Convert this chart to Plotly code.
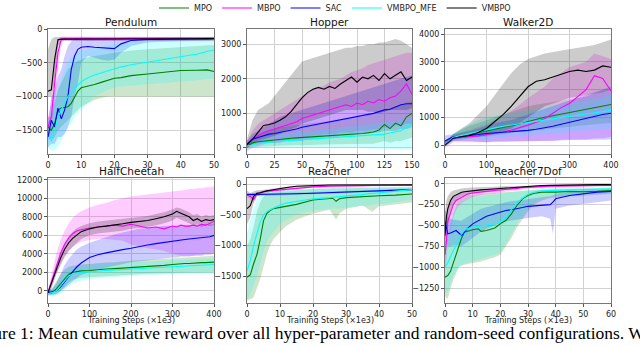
import plotly.graph_objects as go
from plotly.subplots import make_subplots

SERIES = ["MPO", "MBPO", "SAC", "VMBPO_MFE", "VMBPO"]
TITLES = ["Pendulum", "Hopper", "Walker2D", "HalfCheetah", "Reacher", "Reacher7Dof"]

# ---------------- Pendulum ----------------
PEN_X = [0, 1, 2, 3, 4, 5, 6, 7, 8, 9, 10, 12, 14, 16, 18, 20, 22, 25, 30, 35, 40, 45, 48, 50]
PEN_VMBPO = [-920, -900, -450, -160, -150, -150, -150, -152, -150, -148, -150, -152, -150, -150, -155, -150, -150, -148, -150, -148, -145, -145, -142, -140]
PEN_VMBPO_HI = [-300, -150, -120, -120, -125, -125, -125, -128, -125, -125, -125, -128, -125, -125, -130, -125, -125, -125, -125, -125, -120, -120, -118, -115]
PEN_VMBPO_LO = [-1000, -1000, -800, -250, -180, -175, -175, -178, -175, -172, -175, -178, -175, -175, -180, -175, -175, -172, -175, -172, -170, -170, -167, -165]
PEN_MBPO = [-1450, -1300, -800, -350, -150, -140, -145, -140, -142, -140, -140, -145, -140, -142, -140, -140, -143, -140, -142, -145, -148, -150, -150, -150]
PEN_MBPO_HI = [-1300, -1100, -500, -150, -110, -110, -115, -110, -112, -110, -110, -115, -110, -112, -110, -110, -113, -110, -112, -115, -118, -120, -120, -120]
PEN_MBPO_LO = [-1600, -1500, -1100, -600, -200, -170, -175, -170, -172, -170, -170, -175, -170, -172, -170, -170, -173, -170, -172, -175, -178, -180, -180, -180]
PEN_SAC = [-1600, -1350, -1450, -1170, -1330, -1200, -1000, -600, -400, -300, -270, -260, -270, -280, -285, -290, -220, -170, -155, -150, -150, -148, -145, -145]
PEN_SAC_HI = [-1400, -1000, -900, -700, -600, -400, -250, -180, -150, -140, -130, -130, -130, -130, -140, -150, -130, -125, -120, -120, -120, -120, -120, -120]
PEN_SAC_LO = [-1750, -1700, -1700, -1600, -1600, -1550, -1450, -1300, -1000, -800, -500, -400, -430, -450, -470, -450, -350, -250, -200, -190, -180, -180, -170, -170]
PEN_MFE = [-1600, -1650, -1500, -1300, -1200, -1100, -1000, -940, -880, -830, -780, -720, -680, -650, -620, -580, -560, -530, -490, -450, -410, -370, -330, -310]
PEN_MFE_HI = [-1450, -1400, -1100, -900, -750, -600, -500, -420, -380, -350, -320, -300, -280, -260, -240, -220, -200, -180, -160, -150, -140, -130, -130, -130]
PEN_MFE_LO = [-1750, -1800, -1800, -1750, -1650, -1550, -1450, -1400, -1300, -1250, -1200, -1100, -1000, -950, -900, -870, -850, -830, -820, -800, -780, -760, -740, -740]
PEN_MPO = [-1450, -1500, -1400, -1200, -1170, -1160, -1150, -1100, -1000, -920, -870, -850, -820, -790, -760, -730, -720, -690, -665, -640, -615, -610, -605, -630]
PEN_MPO_HI = [-1300, -1300, -1100, -900, -800, -700, -600, -550, -500, -470, -450, -420, -400, -380, -360, -350, -340, -320, -300, -280, -260, -250, -240, -240]
PEN_MPO_LO = [-1600, -1650, -1600, -1500, -1450, -1400, -1350, -1300, -1250, -1200, -1150, -1100, -1050, -1020, -1000, -1000, -1000, -1000, -1000, -1000, -1000, -1000, -1000, -1000]

# ---------------- Hopper ----------------
HOP_X = list(range(0, 151, 5))
HOP_VMBPO = [100, 250, 450, 650, 680, 720, 800, 900, 1050, 1250, 1450, 1600, 1700, 1750, 1700, 1780, 1720, 1850, 1950, 2050, 1900, 2050, 2000, 2100, 1950, 2150, 2000, 2100, 2200, 1950, 2050]
HOP_VMBPO_HI = [250, 800, 1100, 1200, 1300, 1500, 1700, 1900, 2100, 2300, 2500, 2550, 2600, 2650, 2700, 2750, 2800, 2850, 2900, 2900, 2950, 2950, 3000, 3000, 3050, 3050, 3100, 3150, 3100, 3000, 2900]
HOP_VMBPO_LO = [0, 100, 200, 250, 300, 350, 400, 500, 550, 600, 700, 750, 800, 850, 900, 950, 1000, 1050, 1100, 1100, 1100, 1100, 1050, 1050, 1000, 1050, 1100, 1100, 1100, 1100, 1150]
HOP_MBPO = [100, 250, 350, 450, 500, 550, 600, 650, 700, 750, 850, 900, 950, 1000, 1050, 1100, 1150, 1200, 1250, 1200, 1300, 1250, 1350, 1300, 1400, 1350, 1450, 1500, 1650, 1850, 1550]
HOP_MBPO_HI = [200, 500, 700, 800, 900, 1000, 1100, 1200, 1300, 1400, 1500, 1600, 1700, 1750, 1800, 1900, 1950, 2000, 2100, 2200, 2250, 2300, 2400, 2450, 2500, 2550, 2600, 2650, 2700, 2750, 2750]
HOP_MBPO_LO = [-100, 0, 50, 100, 150, 150, 200, 200, 250, 250, 300, 300, 350, 350, 400, 400, 400, 450, 450, 450, 500, 500, 500, 550, 550, 600, 600, 650, 650, 700, 700]
HOP_SAC = [100, 250, 300, 350, 400, 420, 450, 480, 520, 550, 600, 630, 660, 700, 720, 750, 780, 820, 860, 880, 920, 950, 980, 1000, 1050, 1100, 1120, 1180, 1250, 1280, 1280]
HOP_SAC_HI = [200, 400, 500, 600, 700, 800, 900, 950, 1000, 1050, 1100, 1150, 1200, 1250, 1300, 1350, 1400, 1450, 1500, 1550, 1600, 1650, 1700, 1750, 1800, 1850, 1900, 1950, 2000, 2050, 2100]
HOP_SAC_LO = [0, 100, 100, 150, 150, 150, 150, 200, 200, 200, 200, 250, 250, 250, 300, 300, 300, 350, 350, 350, 400, 400, 400, 450, 450, 500, 500, 500, 550, 550, 600]
HOP_MPO = [50, 150, 180, 200, 220, 240, 260, 270, 280, 290, 300, 310, 320, 330, 340, 350, 360, 370, 380, 390, 400, 420, 440, 460, 520, 680, 560, 720, 640, 900, 1000]
HOP_MPO_HI = [150, 300, 400, 450, 500, 550, 600, 620, 640, 660, 680, 700, 720, 740, 760, 780, 800, 820, 840, 860, 880, 900, 950, 1000, 1050, 1100, 1150, 1200, 1250, 1300, 1350]
HOP_MPO_LO = [0, 20, 30, 40, 50, 60, 60, 70, 70, 80, 80, 80, 90, 90, 100, 100, 100, 100, 110, 110, 110, 120, 120, 120, 150, 200, 150, 200, 200, 250, 300]
HOP_MFE = [50, 100, 130, 150, 170, 190, 200, 210, 220, 230, 240, 250, 260, 270, 280, 290, 300, 305, 310, 320, 330, 340, 350, 360, 380, 400, 430, 460, 500, 600, 700]
HOP_MFE_HI = [100, 200, 250, 300, 350, 380, 400, 420, 440, 460, 470, 480, 490, 500, 520, 540, 560, 580, 600, 620, 640, 660, 680, 700, 720, 740, 760, 780, 800, 850, 900]
HOP_MFE_LO = [-50, 0, 0, 10, 10, 20, 20, 20, 20, 20, 20, 20, 20, 10, 10, 10, 10, 0, 0, 0, 0, -10, -10, -10, -20, -20, -30, -30, -40, -40, -50]

# ---------------- Walker2D ----------------
WAL_X = list(range(0, 401, 20))
WAL_VMBPO = [0, 250, 300, 350, 450, 600, 850, 1100, 1400, 1750, 2100, 2300, 2350, 2450, 2550, 2650, 2700, 2650, 2700, 2850, 2800]
WAL_VMBPO_HI = [100, 400, 600, 800, 1100, 1400, 1800, 2200, 2600, 2900, 3100, 3200, 3300, 3350, 3400, 3450, 3500, 3550, 3600, 3700, 3800]
WAL_VMBPO_LO = [-50, 200, 250, 300, 300, 350, 400, 500, 600, 800, 1000, 1200, 1400, 1500, 1600, 1700, 1750, 1800, 1850, 1900, 2000]
WAL_MBPO = [0, 250, 280, 300, 330, 380, 420, 470, 540, 620, 720, 820, 950, 1150, 1350, 1500, 1750, 2000, 2500, 2400, 1950]
WAL_MBPO_HI = [150, 350, 450, 550, 650, 750, 900, 1050, 1250, 1450, 1700, 1900, 2100, 2400, 2600, 2800, 2900, 3000, 3300, 3200, 3100]
WAL_MBPO_LO = [-100, 100, 100, 100, 100, 100, 150, 150, 150, 150, 150, 150, 150, 150, 200, 200, 200, 200, 250, 250, 300]
WAL_SAC = [150, 300, 330, 350, 380, 420, 440, 460, 480, 500, 530, 570, 620, 680, 750, 820, 900, 980, 1050, 1100, 1150]
WAL_SAC_HI = [350, 400, 450, 500, 600, 700, 800, 850, 900, 1000, 1100, 1200, 1300, 1400, 1500, 1600, 1700, 1800, 1900, 2000, 2100]
WAL_SAC_LO = [0, 150, 150, 150, 120, 100, 100, 100, 120, 130, 150, 150, 150, 160, 170, 180, 190, 200, 200, 200, 200]
WAL_MPO = [0, 250, 320, 380, 440, 500, 560, 620, 690, 760, 850, 930, 1000, 1060, 1120, 1180, 1240, 1300, 1360, 1420, 1460]
WAL_MPO_HI = [150, 400, 550, 700, 800, 900, 1000, 1100, 1200, 1300, 1400, 1450, 1500, 1550, 1600, 1650, 1700, 1750, 1850, 1950, 2000]
WAL_MPO_LO = [-50, 150, 200, 250, 300, 300, 350, 400, 450, 500, 520, 550, 580, 600, 640, 680, 700, 720, 750, 780, 800]
WAL_MFE = [0, 280, 350, 420, 500, 560, 620, 680, 730, 770, 810, 860, 900, 950, 1000, 1040, 1080, 1120, 1160, 1220, 1250]
WAL_MFE_HI = [100, 400, 600, 750, 900, 1000, 1050, 1100, 1150, 1200, 1250, 1300, 1350, 1400, 1450, 1500, 1550, 1600, 1650, 1700, 1800]
WAL_MFE_LO = [-50, 150, 200, 200, 200, 200, 250, 280, 300, 330, 350, 380, 400, 420, 450, 480, 500, 520, 550, 580, 600]

# ---------------- HalfCheetah ----------------
HC_X = [0, 10, 20, 30, 40, 50, 60, 70, 80, 100, 120, 140, 160, 180, 200, 220, 240, 260, 280, 300, 310, 320, 330, 340, 350, 360, 370, 380, 390, 400]
HC_VMBPO = [-200, 1000, 2400, 3500, 4500, 5200, 5700, 6100, 6400, 6700, 6900, 7000, 7100, 7250, 7400, 7500, 7600, 7800, 8000, 8300, 8600, 8400, 8200, 8000, 7600, 7800, 7500, 7700, 7600, 7700]
HC_VMBPO_HI = [100, 1500, 3000, 4200, 5200, 5900, 6400, 6800, 7000, 7300, 7500, 7600, 7700, 7800, 7900, 8000, 8100, 8300, 8500, 8800, 9000, 8900, 8700, 8500, 8200, 8300, 8000, 8200, 8100, 8200]
HC_VMBPO_LO = [-500, 500, 1800, 2800, 3700, 4300, 4800, 5200, 5600, 6000, 6200, 6300, 6400, 6500, 6700, 6800, 6900, 7100, 7300, 7600, 7900, 7700, 7500, 7300, 7000, 7200, 6900, 7100, 7000, 7100]
HC_MBPO = [-200, 1200, 2800, 4000, 5000, 5700, 6200, 6500, 6600, 6800, 6900, 7000, 7100, 7000, 7200, 7000, 6800, 6900, 6700, 7000, 6900, 7100, 7000, 7000, 7100, 7000, 7200, 7100, 7300, 7500]
HC_MBPO_HI = [0, 2000, 4000, 5500, 6500, 7300, 7900, 8300, 8600, 9000, 9300, 9500, 9800, 10000, 10200, 10300, 10400, 10500, 10600, 10700, 10800, 10800, 10900, 11000, 11000, 11100, 11100, 11200, 11200, 11300]
HC_MBPO_LO = [-400, 500, 1800, 2800, 3600, 4300, 4800, 5100, 5300, 5500, 5600, 5600, 5500, 5400, 5000, 4800, 4600, 4500, 4300, 4000, 3900, 3800, 3800, 3800, 3800, 3900, 3900, 4000, 4000, 4000]
HC_SAC = [-200, -100, 0, 400, 1000, 1500, 2100, 2600, 3000, 3600, 3900, 4100, 4300, 4450, 4600, 4800, 4950, 5100, 5250, 5400, 5450, 5500, 5550, 5600, 5650, 5700, 5750, 5800, 5850, 6000]
HC_SAC_HI = [0, 200, 800, 1800, 2800, 3500, 4000, 4500, 4800, 5200, 5500, 5800, 6100, 6300, 6500, 6700, 6800, 6900, 7000, 7000, 7050, 7050, 7100, 7100, 7100, 7150, 7150, 7200, 7200, 7200]
HC_SAC_LO = [-400, -400, -300, 0, 300, 600, 1000, 1400, 1700, 2000, 2300, 2500, 2700, 2900, 3100, 3200, 3300, 3400, 3500, 3600, 3600, 3700, 3700, 3700, 3800, 3800, 3800, 3900, 3900, 4000]
HC_MPO = [-300, -200, 200, 700, 1300, 1800, 2000, 2100, 2150, 2200, 2300, 2350, 2400, 2450, 2550, 2600, 2650, 2700, 2750, 2850, 2900, 2900, 2950, 2950, 3000, 3000, 3050, 3050, 3100, 3100]
HC_MPO_HI = [0, 300, 1000, 1800, 2300, 2600, 2700, 2800, 2850, 2900, 3000, 3050, 3100, 3200, 3250, 3300, 3350, 3400, 3450, 3500, 3550, 3550, 3600, 3600, 3650, 3650, 3700, 3700, 3750, 3800]
HC_MPO_LO = [-500, -500, -400, -100, 400, 900, 1200, 1300, 1400, 1500, 1550, 1600, 1650, 1700, 1750, 1800, 1850, 1850, 1900, 1900, 1950, 1950, 1950, 1950, 2000, 2000, 2000, 2000, 2000, 2000]
HC_MFE = [-300, -200, 0, 500, 1100, 1600, 1850, 1950, 2000, 2050, 2150, 2200, 2250, 2300, 2400, 2450, 2500, 2550, 2600, 2650, 2700, 2700, 2750, 2750, 2750, 2800, 2800, 2800, 2850, 2850]
HC_MFE_HI = [0, 200, 800, 1500, 2100, 2400, 2500, 2600, 2700, 2800, 2900, 2950, 3000, 3050, 3100, 3150, 3200, 3250, 3300, 3350, 3350, 3400, 3400, 3400, 3450, 3450, 3450, 3500, 3500, 3500]
HC_MFE_LO = [-500, -500, -500, -300, 100, 500, 800, 1000, 1100, 1300, 1400, 1450, 1500, 1550, 1600, 1650, 1700, 1700, 1750, 1750, 1800, 1800, 1800, 1800, 1800, 1800, 1800, 1800, 1800, 1800]

# ---------------- Reacher ----------------
REA_X = [0, 1, 2, 3, 4, 5, 6, 7, 8, 10, 12, 15, 20, 25, 26, 27, 28, 30, 35, 38, 40, 45, 50]
REA_VMBPO = [-400, -350, -200, -150, -140, -120, -110, -100, -90, -70, -55, -35, -20, -15, -15, -15, -12, -10, -10, -10, -10, -10, -10]
REA_VMBPO_HI = [-100, -150, -120, -100, -100, -90, -85, -80, -70, -55, -40, -25, -10, -5, -5, -5, -5, -5, -5, -5, -5, -5, -5]
REA_VMBPO_LO = [-650, -550, -300, -200, -180, -160, -140, -130, -120, -90, -70, -50, -35, -25, -25, -25, -20, -18, -15, -15, -15, -15, -15]
REA_MBPO = [-180, -200, -250, -160, -140, -120, -115, -110, -105, -100, -90, -70, -45, -35, -33, -32, -30, -28, -25, -23, -22, -20, -20]
REA_MBPO_HI = [-150, -160, -180, -130, -115, -100, -95, -90, -85, -80, -70, -55, -30, -22, -20, -20, -18, -16, -14, -12, -12, -10, -10]
REA_MBPO_LO = [-210, -240, -320, -190, -165, -140, -135, -130, -125, -120, -110, -85, -60, -48, -46, -44, -42, -40, -36, -34, -32, -30, -30]
REA_SAC = [-170, -170, -170, -170, -170, -168, -168, -168, -167, -165, -163, -158, -150, -140, -138, -137, -135, -130, -120, -115, -110, -100, -90]
REA_SAC_HI = [-150, -150, -150, -150, -150, -148, -148, -148, -147, -145, -143, -138, -130, -120, -118, -117, -115, -110, -100, -95, -90, -80, -70]
REA_SAC_LO = [-190, -190, -190, -190, -190, -188, -188, -188, -187, -185, -183, -178, -170, -160, -158, -157, -155, -150, -140, -135, -130, -120, -110]
REA_MFE = [-1420, -1250, -1000, -800, -620, -500, -450, -420, -390, -340, -310, -280, -240, -220, -215, -210, -205, -190, -170, -150, -140, -110, -90]
REA_MFE_HI = [-800, -600, -400, -250, -180, -150, -130, -120, -110, -100, -90, -80, -70, -60, -60, -60, -60, -55, -55, -50, -50, -50, -50]
REA_MFE_LO = [-1900, -1800, -1650, -1500, -1300, -1100, -950, -850, -780, -650, -580, -500, -430, -400, -400, -400, -390, -380, -360, -340, -330, -300, -250]
REA_MPO = [-1520, -1480, -1300, -1150, -900, -600, -480, -430, -400, -380, -360, -330, -260, -240, -230, -280, -240, -220, -200, -195, -190, -180, -160]
REA_MPO_HI = [-1000, -900, -700, -450, -300, -200, -160, -140, -130, -120, -110, -100, -80, -70, -70, -70, -70, -60, -60, -60, -55, -55, -50]
REA_MPO_LO = [-1900, -1880, -1850, -1700, -1550, -1350, -1150, -1000, -900, -780, -680, -580, -480, -420, -500, -580, -480, -400, -350, -450, -360, -330, -300]

# ---------------- Reacher7Dof ----------------
R7_X = [0, 0.5, 1, 2, 3, 4, 5, 6, 7, 8, 10, 12, 13, 15, 18, 20, 22, 24, 26, 28, 30, 32, 35, 38, 39, 40, 45, 50, 55, 60]
R7_VMBPO = [-620, -400, -300, -200, -150, -130, -110, -100, -95, -90, -80, -75, -72, -68, -60, -55, -50, -45, -40, -35, -30, -25, -20, -18, -17, -16, -14, -12, -10, -10]
R7_VMBPO_HI = [-350, -200, -150, -100, -80, -70, -60, -55, -50, -50, -45, -40, -40, -38, -35, -30, -28, -25, -22, -20, -18, -15, -12, -10, -10, -10, -8, -6, -5, -5]
R7_VMBPO_LO = [-900, -650, -500, -330, -250, -200, -170, -150, -140, -130, -115, -110, -105, -100, -90, -80, -72, -65, -58, -50, -45, -38, -30, -26, -25, -24, -20, -18, -15, -15]
R7_MBPO = [-850, -700, -450, -350, -250, -200, -180, -160, -140, -125, -110, -100, -95, -90, -80, -75, -70, -60, -55, -45, -40, -35, -30, -28, -27, -26, -24, -22, -20, -20]
R7_MBPO_HI = [-600, -450, -250, -200, -150, -130, -120, -100, -90, -80, -70, -65, -60, -55, -50, -45, -40, -35, -30, -25, -22, -20, -15, -12, -12, -12, -10, -10, -8, -8]
R7_MBPO_LO = [-1000, -950, -700, -550, -400, -320, -270, -240, -210, -190, -160, -140, -135, -125, -115, -105, -100, -90, -80, -70, -60, -55, -45, -42, -40, -40, -38, -35, -32, -32]
R7_SAC = [-450, -550, -600, -590, -570, -560, -590, -620, -580, -540, -480, -440, -420, -390, -360, -340, -320, -310, -300, -285, -270, -265, -260, -250, -220, -180, -140, -120, -100, -90]
R7_SAC_HI = [-300, -350, -400, -420, -430, -430, -440, -440, -420, -400, -350, -320, -300, -280, -260, -240, -220, -210, -200, -190, -180, -170, -160, -150, -140, -120, -100, -80, -70, -60]
R7_SAC_LO = [-600, -700, -750, -750, -740, -730, -740, -750, -730, -700, -650, -600, -570, -540, -500, -470, -450, -440, -430, -420, -410, -400, -390, -420, -600, -300, -260, -240, -220, -200]
R7_MFE = [-1000, -980, -950, -870, -800, -750, -670, -600, -560, -540, -520, -510, -505, -500, -480, -460, -400, -310, -230, -170, -125, -100, -85, -80, -80, -78, -75, -70, -65, -60]
R7_MFE_HI = [-700, -650, -600, -450, -350, -300, -250, -220, -200, -180, -160, -150, -145, -140, -130, -120, -110, -100, -90, -80, -70, -60, -50, -50, -50, -50, -45, -40, -40, -40]
R7_MFE_LO = [-1300, -1300, -1300, -1200, -1100, -1050, -1000, -980, -960, -950, -930, -910, -900, -880, -850, -820, -720, -600, -480, -380, -300, -220, -180, -150, -150, -150, -130, -120, -110, -100]
R7_MPO = [-1120, -1110, -1100, -1050, -950, -850, -750, -650, -580, -570, -550, -540, -570, -560, -530, -480, -440, -360, -260, -180, -140, -115, -100, -100, -100, -100, -90, -95, -90, -80]
R7_MPO_HI = [-800, -750, -700, -500, -350, -250, -200, -170, -150, -140, -130, -120, -120, -115, -110, -105, -100, -95, -90, -85, -80, -75, -70, -65, -65, -65, -60, -55, -55, -50]
R7_MPO_LO = [-1350, -1370, -1380, -1250, -1150, -1080, -1000, -980, -970, -960, -950, -940, -930, -910, -880, -850, -750, -650, -520, -420, -330, -250, -200, -170, -165, -160, -150, -140, -130, -120]

# ---------------- axis ticks ----------------
X_TICKS = [[0, 10, 20, 30, 40, 50], [0, 25, 50, 75, 100, 125, 150], [0, 100, 200, 300, 400],
           [0, 100, 200, 300, 400], [0, 10, 20, 30, 40, 50], [0, 10, 20, 30, 40, 50, 60]]
Y_TICKS = [[0, -500, -1000, -1500], [0, 1000, 2000, 3000], [0, 1000, 2000, 3000, 4000],
           [0, 2000, 4000, 6000, 8000, 10000, 12000], [0, -500, -1000, -1500],
           [0, -250, -500, -750, -1000, -1250]]
X_RANGES = [[0, 50], [0, 150], [0, 400], [0, 400], [0, 50], [0, 60]]
Y_RANGES = [[-1850, 0], [-175, 3440], [-320, 4180], [-1320, 12200], [-1940, 100], [-1430, 70]]

LINE_COLORS = {"MPO": "#008000", "MBPO": "#ff00ff", "SAC": "#0000ff", "VMBPO_MFE": "#00ffff", "VMBPO": "#000000"}
FILL_COLORS = {"MPO": "rgba(0,128,0,0.2)", "MBPO": "rgba(255,0,255,0.2)", "SAC": "rgba(0,0,255,0.2)",
               "VMBPO_MFE": "rgba(0,255,255,0.2)", "VMBPO": "rgba(0,0,0,0.2)"}

ENVS = [
    (PEN_X, {"MPO": (PEN_MPO, PEN_MPO_LO, PEN_MPO_HI), "MBPO": (PEN_MBPO, PEN_MBPO_LO, PEN_MBPO_HI),
             "SAC": (PEN_SAC, PEN_SAC_LO, PEN_SAC_HI), "VMBPO_MFE": (PEN_MFE, PEN_MFE_LO, PEN_MFE_HI),
             "VMBPO": (PEN_VMBPO, PEN_VMBPO_LO, PEN_VMBPO_HI)}),
    (HOP_X, {"MPO": (HOP_MPO, HOP_MPO_LO, HOP_MPO_HI), "MBPO": (HOP_MBPO, HOP_MBPO_LO, HOP_MBPO_HI),
             "SAC": (HOP_SAC, HOP_SAC_LO, HOP_SAC_HI), "VMBPO_MFE": (HOP_MFE, HOP_MFE_LO, HOP_MFE_HI),
             "VMBPO": (HOP_VMBPO, HOP_VMBPO_LO, HOP_VMBPO_HI)}),
    (WAL_X, {"MPO": (WAL_MPO, WAL_MPO_LO, WAL_MPO_HI), "MBPO": (WAL_MBPO, WAL_MBPO_LO, WAL_MBPO_HI),
             "SAC": (WAL_SAC, WAL_SAC_LO, WAL_SAC_HI), "VMBPO_MFE": (WAL_MFE, WAL_MFE_LO, WAL_MFE_HI),
             "VMBPO": (WAL_VMBPO, WAL_VMBPO_LO, WAL_VMBPO_HI)}),
    (HC_X, {"MPO": (HC_MPO, HC_MPO_LO, HC_MPO_HI), "MBPO": (HC_MBPO, HC_MBPO_LO, HC_MBPO_HI),
            "SAC": (HC_SAC, HC_SAC_LO, HC_SAC_HI), "VMBPO_MFE": (HC_MFE, HC_MFE_LO, HC_MFE_HI),
            "VMBPO": (HC_VMBPO, HC_VMBPO_LO, HC_VMBPO_HI)}),
    (REA_X, {"MPO": (REA_MPO, REA_MPO_LO, REA_MPO_HI), "MBPO": (REA_MBPO, REA_MBPO_LO, REA_MBPO_HI),
             "SAC": (REA_SAC, REA_SAC_LO, REA_SAC_HI), "VMBPO_MFE": (REA_MFE, REA_MFE_LO, REA_MFE_HI),
             "VMBPO": (REA_VMBPO, REA_VMBPO_LO, REA_VMBPO_HI)}),
    (R7_X, {"MPO": (R7_MPO, R7_MPO_LO, R7_MPO_HI), "MBPO": (R7_MBPO, R7_MBPO_LO, R7_MBPO_HI),
            "SAC": (R7_SAC, R7_SAC_LO, R7_SAC_HI), "VMBPO_MFE": (R7_MFE, R7_MFE_LO, R7_MFE_HI),
            "VMBPO": (R7_VMBPO, R7_VMBPO_LO, R7_VMBPO_HI)}),
]

W, H = 640, 346
COL_PX = [(48, 214), (247, 412), (445, 611)]
ROW_PX = [(29, 154), (178, 303)]


def px_x(p):
    return p / W


def px_y(p):
    return 1 - p / H


fig = make_subplots(rows=2, cols=3)
FONT = "DejaVu Sans"


def fmt(v):
    s = str(abs(int(v)))
    return ("\u2212" + s) if v < 0 else s


for i, (xs, data) in enumerate(ENVS):
    r, c = i // 3 + 1, i % 3 + 1
    for name in SERIES:
        y, lo, hi = data[name]
        fig.add_trace(go.Scatter(x=list(xs) + list(xs)[::-1], y=list(hi) + list(lo)[::-1],
                                 fill="toself", fillcolor=FILL_COLORS[name], line=dict(width=0),
                                 mode="lines", hoverinfo="skip", showlegend=False), row=r, col=c)
    for name in SERIES:
        y, lo, hi = data[name]
        fig.add_trace(go.Scatter(x=xs, y=y, mode="lines", name=name, legendgroup=name,
                                 line=dict(color=LINE_COLORS[name], width=1.1),
                                 showlegend=(i == 0)), row=r, col=c)
    x0, x1 = COL_PX[c - 1]
    y0, y1 = ROW_PX[r - 1]
    fig.update_xaxes(domain=[px_x(x0), px_x(x1)], range=X_RANGES[i], tickvals=X_TICKS[i],
                     ticktext=[fmt(v) for v in X_TICKS[i]], row=r, col=c)
    fig.update_yaxes(domain=[px_y(y1), px_y(y0)], range=Y_RANGES[i], tickvals=Y_TICKS[i],
                     ticktext=[fmt(v) for v in Y_TICKS[i]], row=r, col=c)
    fig.add_annotation(text=TITLES[i], x=px_x((x0 + x1) / 2), y=px_y(y0), xref="paper", yref="paper",
                       xanchor="center", yanchor="bottom", showarrow=False, yshift=-1,
                       font=dict(family=FONT, size=10.5, color="#111"))
    if r == 2:
        fig.add_annotation(text="Training Steps (\u00d71e3)", x=px_x((x0 + x1) / 2), y=px_y(320),
                           xref="paper", yref="paper", xanchor="center", yanchor="middle",
                           showarrow=False, font=dict(family=FONT, size=8, color="#222"))

axis_style = dict(showline=True, mirror=True, linecolor="#777", linewidth=1, showgrid=True,
                  gridcolor="#d2d2d2", gridwidth=1, ticks="outside", ticklen=3, tickcolor="#555",
                  tickfont=dict(family=FONT, size=8, color="#222"), zeroline=False, automargin=False)
fig.update_xaxes(**axis_style)
fig.update_yaxes(**axis_style)

fig.add_annotation(text="Figure 1: Mean cumulative reward over all hyper-parameter and random-seed configurations. We",
                   x=px_x(-32), y=px_y(333), xref="paper", yref="paper", xanchor="left", yanchor="middle",
                   showarrow=False, font=dict(family="Liberation Serif", size=17.5, color="#000"))

fig.update_layout(
    width=W, height=H, template="none",
    margin=dict(l=0, r=0, t=0, b=0, autoexpand=False),
    paper_bgcolor="white", plot_bgcolor="white",
    showlegend=True,
    legend=dict(orientation="h", x=px_x(335), xanchor="center", y=px_y(8), yanchor="middle",
                font=dict(family=FONT, size=8, color="#222"), bgcolor="rgba(0,0,0,0)",
                itemwidth=30, tracegroupgap=0),
)

fig.write_html("out.html", config={"displayModeBar": False},
               post_script="document.body.style.margin='0';document.body.style.overflow='hidden';")
